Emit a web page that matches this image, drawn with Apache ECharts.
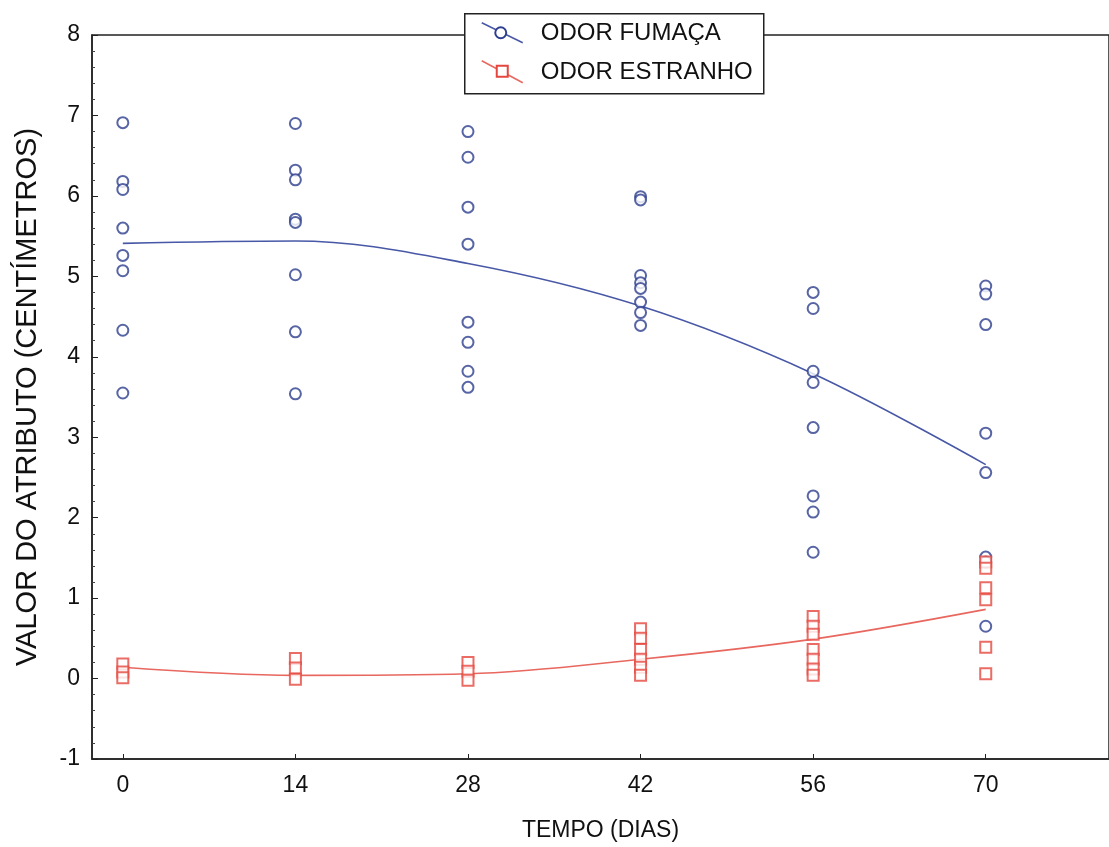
<!DOCTYPE html>
<html>
<head>
<meta charset="utf-8">
<script src="https://cdn.jsdelivr.net/npm/echarts@6/dist/echarts.min.js"></script>
<style>html,body{margin:0;padding:0;background:#fff}#c{width:1109px;height:847px}</style>
</head>
<body>
<div id="c"></div>
<script>
// ---- data ----
const days = [0, 14, 28, 42, 56, 70];
const yTicks = [-1, 0, 1, 2, 3, 4, 5, 6, 7, 8];
const fumacaByDay = [
  [6.91, 6.18, 6.08, 5.60, 5.26, 5.07, 4.33, 3.55],
  [6.90, 6.32, 6.20, 5.71, 5.67, 5.02, 4.31, 3.54],
  [6.80, 6.48, 5.86, 5.40, 4.43, 4.18, 3.82, 3.62],
  [5.99, 5.95, 5.01, 4.92, 4.85, 4.68, 4.55, 4.39],
  [4.80, 4.60, 3.82, 3.68, 3.12, 2.27, 2.07, 1.57],
  [4.88, 4.78, 4.40, 3.05, 2.56, 1.51, 1.45, 0.65]
];
const estranhoByDay = [
  [0.18, 0.08, 0.01],
  [0.25, 0.13, -0.01],
  [0.20, 0.09, -0.02],
  [0.62, 0.50, 0.36, 0.24, 0.14, 0.04],
  [0.77, 0.65, 0.55, 0.36, 0.24, 0.12, 0.04],
  [1.45, 1.37, 1.13, 0.98, 0.39, 0.06]
];
const fumacaFit = [5.41, 5.44, 5.16, 4.63, 3.79, 2.66];
const estranhoFit = [0.14, 0.04, 0.06, 0.24, 0.49, 0.86];
const legendNames = ['ODOR FUMAÇA', 'ODOR ESTRANHO'];
const xTitle = 'TEMPO (DIAS)';
const yTitle = 'VALOR DO ATRIBUTO (CENTÍMETROS)';

// ---- build ----
const blue = '#2e3f8f', blueLine = '#4858a6';
const red = '#e5473f', redLine = '#e8675f';
const sans = '"Liberation Sans",Arial,sans-serif';

function pts(byDay) {
  const out = [];
  byDay.forEach((vals, i) => vals.forEach(v => out.push([days[i], v])));
  return out;
}
const fit = arr => arr.map((v, i) => [days[i], v]);

const chart = echarts.init(document.getElementById('c'), null, {renderer: 'canvas'});
chart.setOption({
  animation: false,
  backgroundColor: '#fff',
  grid: {left: 92, top: 35, bottom: 88, right: -10, show: true, borderColor: '#222', borderWidth: 1.5, backgroundColor: 'transparent'},
  xAxis: {
    type: 'value', min: -2.5, max: 80,
    name: xTitle, nameLocation: 'middle', nameGap: 60,
    nameTextStyle: {fontFamily: sans, fontSize: 23, color: '#111'},
    axisLine: {onZero: false, lineStyle: {color: '#222', width: 1.5}},
    axisTick: {show: true, inside: true, length: 5, customValues: days, lineStyle: {color: '#222'}},
    axisLabel: {customValues: days, fontFamily: sans, fontSize: 23, color: '#111', margin: 15},
    splitLine: {show: false}
  },
  yAxis: {
    type: 'value', min: yTicks[0], max: yTicks[yTicks.length - 1], interval: 1,
    name: yTitle, nameLocation: 'middle', nameGap: 50, nameRotate: 90,
    nameTextStyle: {fontFamily: sans, fontSize: 29, color: '#111'},
    axisLine: {show: true, onZero: false, lineStyle: {color: '#222', width: 1.5}},
    axisTick: {show: true, inside: true, length: 6, lineStyle: {color: '#222'}},
    minorTick: {show: true, splitNumber: 5, length: 3, lineStyle: {color: '#444'}},
    axisLabel: {fontFamily: sans, fontSize: 23, color: '#111', margin: 12},
    splitLine: {show: false}
  },
  series: [
    {name: legendNames[0] + ' ajuste', type: 'line', data: fit(fumacaFit), smooth: 0.35, showSymbol: false,
     lineStyle: {color: blueLine, width: 1.6}, z: 2, silent: true},
    {name: legendNames[1] + ' ajuste', type: 'line', data: fit(estranhoFit), smooth: 0.35, showSymbol: false,
     lineStyle: {color: redLine, width: 1.6}, z: 2, silent: true},
    {name: legendNames[0], type: 'scatter', data: pts(fumacaByDay), symbol: 'emptyCircle', symbolSize: 11,
     itemStyle: {color: blue, borderColor: blue, borderWidth: 2.4}, z: 3},
    {name: legendNames[1], type: 'scatter', data: pts(estranhoByDay), symbol: 'emptyRect', symbolSize: 11,
     itemStyle: {color: red, borderColor: red, borderWidth: 2.2}, z: 3}
  ],
  graphic: [
    {type: 'group', left: 464, top: 13, z: 100, children: [
      {type: 'rect', shape: {x: 0, y: 0, width: 299, height: 80}, style: {fill: '#fff', stroke: '#222', lineWidth: 1.5}},
      {type: 'line', shape: {x1: 17, y1: 9, x2: 58, y2: 29}, style: {stroke: blueLine, lineWidth: 1.5}},
      {type: 'circle', shape: {cx: 36, cy: 19, r: 5.5}, style: {fill: '#fff', stroke: blue, lineWidth: 2}},
      {type: 'text', x: 76, y: 20, style: {text: legendNames[0], font: '24px ' + sans, fill: '#111', verticalAlign: 'middle'}},
      {type: 'line', shape: {x1: 17, y1: 47, x2: 58, y2: 69}, style: {stroke: redLine, lineWidth: 1.5}},
      {type: 'rect', shape: {x: 32, y: 52, width: 11, height: 11}, style: {fill: '#fff', stroke: red, lineWidth: 2}},
      {type: 'text', x: 76, y: 59, style: {text: legendNames[1], font: '24px ' + sans, fill: '#111', verticalAlign: 'middle'}}
    ]}
  ]
});
</script>
</body>
</html>
